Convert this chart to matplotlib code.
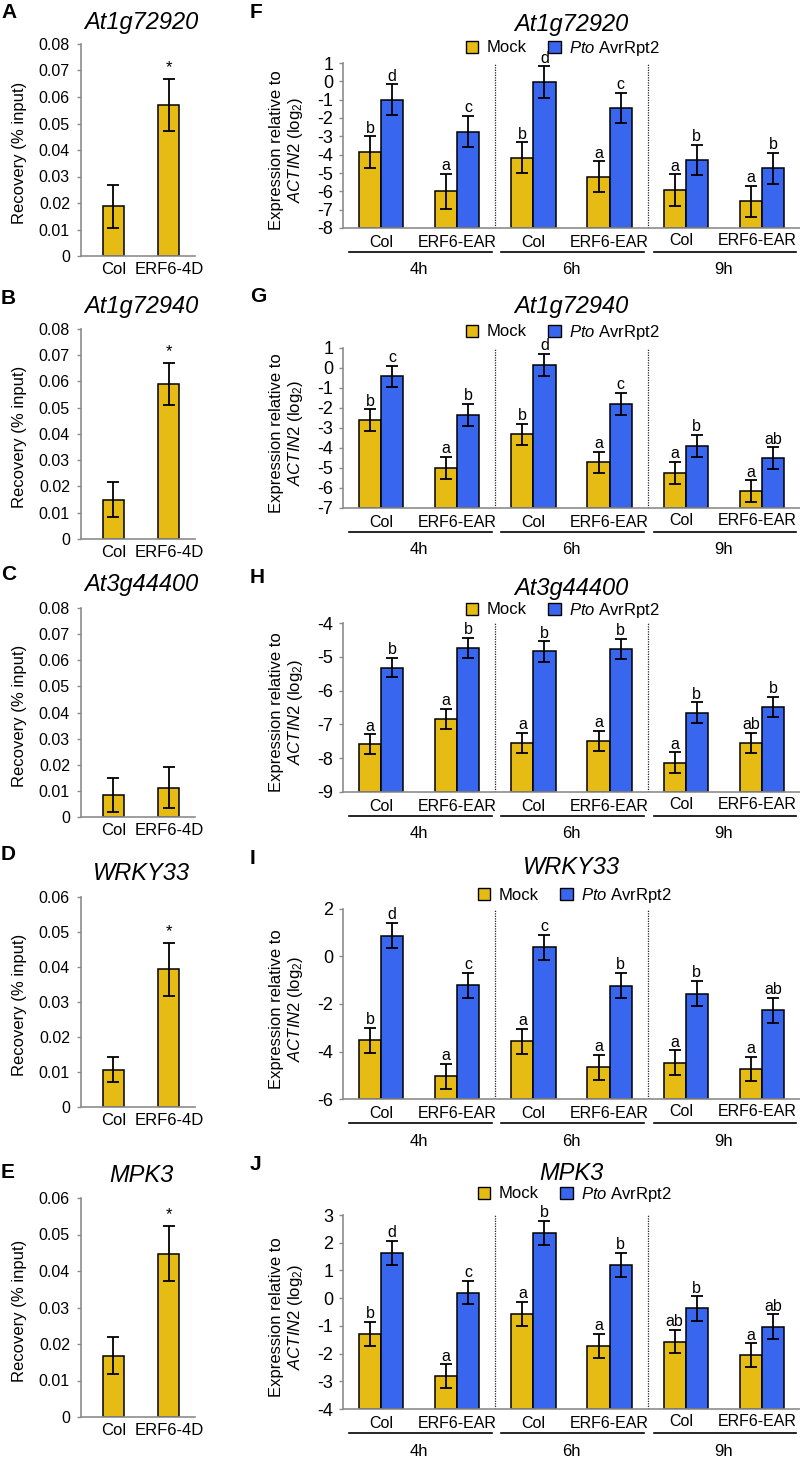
import numpy as np
import matplotlib
matplotlib.use('Agg')
import matplotlib.pyplot as plt
from matplotlib.patches import Patch
from matplotlib import transforms

plt.rcParams['font.family'] = ['Liberation Sans', 'DejaVu Sans']
plt.rcParams['mathtext.fontset'] = 'custom'
plt.rcParams['mathtext.rm'] = 'Liberation Sans'
plt.rcParams['mathtext.it'] = 'Liberation Sans:italic'
plt.rcParams['axes.unicode_minus'] = False

W, H = 800, 1457
YELLOW = '#E6BC14'
BLUE = '#3966EE'
GREY = '#8c8c8c'

# --- ChIP-qPCR (A-E) ---
chip_genes = ['At1g72920', 'At1g72940', 'At3g44400', 'WRKY33', 'MPK3']
chip_lines = ['Col', 'ERF6-4D']
chip_col = [0.0187, 0.0150, 0.0085, 0.0107, 0.0168]
chip_col_err = [0.0082, 0.0068, 0.0066, 0.0036, 0.0050]
chip_erf = [0.0570, 0.0592, 0.0112, 0.0393, 0.0447]
chip_erf_err = [0.0098, 0.0080, 0.0078, 0.0075, 0.0075]
chip_star = [True, True, False, True, True]
chip_ymax = [0.08, 0.08, 0.08, 0.06, 0.06]

# --- qRT-PCR (F-J), order: 4h Col, 4h EAR, 6h Col, 6h EAR, 9h Col, 9h EAR ---
expr_genes = ['At1g72920', 'At1g72940', 'At3g44400', 'WRKY33', 'MPK3']
expr_lines = ['Col', 'ERF6-EAR', 'Col', 'ERF6-EAR', 'Col', 'ERF6-EAR']
times = ['4h', '6h', '9h']
mock_mean = [
    [-3.87, -5.99, -4.17, -5.21, -5.94, -6.54],
    [-2.60, -4.99, -3.32, -4.72, -5.24, -6.16],
    [-7.59, -6.84, -7.54, -7.49, -8.13, -7.54],
    [-3.53, -5.05, -3.57, -4.67, -4.48, -4.74],
    [-1.29, -2.81, -0.57, -1.73, -1.57, -2.05],
]
mock_err = [
    [0.87, 0.95, 0.84, 0.84, 0.87, 0.85],
    [0.54, 0.54, 0.54, 0.53, 0.55, 0.55],
    [0.30, 0.30, 0.30, 0.30, 0.30, 0.30],
    [0.52, 0.53, 0.53, 0.53, 0.53, 0.52],
    [0.43, 0.42, 0.43, 0.44, 0.42, 0.42],
]
pto_mean = [
    [-1.01, -2.74, -0.04, -1.46, -4.29, -4.75],
    [-0.42, -2.35, 0.16, -1.79, -3.90, -4.52],
    [-5.32, -4.74, -4.84, -4.77, -6.65, -6.48],
    [0.88, -1.21, 0.39, -1.23, -1.56, -2.27],
    [1.62, 0.20, 2.34, 1.20, -0.37, -1.03],
]
pto_err = [
    [0.85, 0.84, 0.85, 0.82, 0.84, 0.84],
    [0.54, 0.55, 0.55, 0.55, 0.56, 0.55],
    [0.29, 0.30, 0.30, 0.30, 0.30, 0.30],
    [0.53, 0.53, 0.53, 0.53, 0.53, 0.53],
    [0.44, 0.42, 0.44, 0.43, 0.44, 0.44],
]
mock_letters = [
    ['b', 'a', 'b', 'a', 'a', 'a'],
    ['b', 'a', 'b', 'a', 'a', 'a'],
    ['a', 'a', 'a', 'a', 'a', 'ab'],
    ['b', 'a', 'a', 'a', 'a', 'a'],
    ['b', 'a', 'a', 'a', 'ab', 'a'],
]
pto_letters = [
    ['d', 'c', 'd', 'c', 'b', 'b'],
    ['c', 'b', 'd', 'c', 'b', 'ab'],
    ['b', 'b', 'b', 'b', 'b', 'b'],
    ['d', 'c', 'c', 'b', 'b', 'ab'],
    ['d', 'c', 'b', 'b', 'b', 'ab'],
]
expr_ylim = [(-8, 1), (-7, 1), (-9, -4), (-6, 2), (-4, 3)]
expr_ystep = [1, 1, 1, 2, 1]

# layout in pixels
left_boxes = [(44, 256), (329, 539), (608, 817), (897, 1107), (1198, 1417)]
left_title_y = [23, 307, 585, 873, 1175]
left_letter_y = [12, 298, 575, 855, 1173]
right_boxes = [(63, 228), (348, 508), (623, 792), (909, 1099), (1215, 1409)]
right_title_y = [25, 307, 588, 868, 1173]
right_letter_y = [12, 297, 577, 858, 1165]
legend_pos = [(563, 48), (563, 332), (563, 610), (575, 895), (575, 1194)]
# the 9h tick labels sit a little left/up in the original
label_shift = [(0, 0), (0, 0), (0, 0), (0, 0), (-4, 2), (-5, 2)]

fig = plt.figure(figsize=(W / 100, H / 100), dpi=100)


def px_axes(l, t, r, b):
    return fig.add_axes([l / W, 1 - b / H, (r - l) / W, (b - t) / H])


def style_axes(ax):
    for s in ['top', 'right']:
        ax.spines[s].set_visible(False)
    for s in ['left', 'bottom']:
        ax.spines[s].set_color(GREY)
        ax.spines[s].set_linewidth(1.2)
    ax.tick_params(axis='y', direction='out', length=3, width=1, color=GREY)
    ax.tick_params(axis='x', length=0)


# ---- left column ----
panel_left = ['A', 'B', 'C', 'D', 'E']
for k in range(5):
    t, b = left_boxes[k]
    ax = px_axes(81, t, 195, b)
    style_axes(ax)
    vals = [chip_col[k], chip_erf[k]]
    errs = [chip_col_err[k], chip_erf_err[k]]
    ax.bar([0, 1], vals, 0.38, color=YELLOW, edgecolor='black', lw=1.1, zorder=2)
    ax.errorbar([0, 1], vals, yerr=errs, fmt='none', ecolor='black',
                elinewidth=1.3, capsize=4, capthick=1.3, zorder=3)
    ax.set_xlim(-0.58, 1.47)
    ax.set_ylim(0, chip_ymax[k])
    yt = np.arange(0, chip_ymax[k] + 1e-9, 0.01)
    ax.set_yticks(yt)
    ax.set_yticklabels(['0'] + ['%.2f' % v for v in yt[1:]], fontsize=11.5)
    ax.tick_params(axis='y', pad=5)
    ax.set_xticks([0, 1])
    ax.set_xticklabels(chip_lines, fontsize=12)
    ax.tick_params(axis='x', pad=4)
    if chip_star[k]:
        ax.annotate('*', (1, vals[1] + errs[1]), xytext=(0, 5), textcoords='offset points',
                    ha='center', va='baseline', fontsize=12)
    fig.text(141 / W, 1 - left_title_y[k] / H, chip_genes[k], style='italic',
             fontsize=17, ha='center', va='center')
    fig.text(1 / W, 1 - left_letter_y[k] / H, panel_left[k], fontweight='bold',
             fontsize=15, ha='left', va='center')
    fig.text(20 / W, 1 - ((t + b) / 2 + 3) / H, 'Recovery (% input)', rotation=90,
             fontsize=12, ha='center', va='center')

# ---- right column ----
panel_right = ['F', 'G', 'H', 'I', 'J']
x = np.arange(6)
for k in range(5):
    t, b = right_boxes[k]
    ax = px_axes(343, t, 800, b)
    style_axes(ax)
    ylo, yhi = expr_ylim[k]
    m = np.array(mock_mean[k])
    p = np.array(pto_mean[k])
    ax.bar(x - 0.145, m - ylo, 0.29, bottom=ylo, color=YELLOW, edgecolor='black', lw=1.1, zorder=2)
    ax.bar(x + 0.145, p - ylo, 0.29, bottom=ylo, color=BLUE, edgecolor='black', lw=1.1, zorder=2)
    ax.errorbar(x - 0.145, m, yerr=mock_err[k], fmt='none', ecolor='black',
                elinewidth=1.3, capsize=4, capthick=1.3, zorder=3)
    ax.errorbar(x + 0.145, p, yerr=pto_err[k], fmt='none', ecolor='black',
                elinewidth=1.3, capsize=4, capthick=1.3, zorder=3)
    for i in range(6):
        ax.annotate(mock_letters[k][i], (x[i] - 0.145, m[i] + mock_err[k][i]), xytext=(0, 0.5),
                    textcoords='offset points', ha='center', va='bottom', fontsize=11.5)
        ax.annotate(pto_letters[k][i], (x[i] + 0.145, p[i] + pto_err[k][i]), xytext=(0, 0.5),
                    textcoords='offset points', ha='center', va='bottom', fontsize=11.5)
    for xv in [1.5, 3.5]:
        ax.axvline(xv, ls=(0, (1, 1)), color='#222222', lw=0.9, zorder=1)
    ax.set_xlim(-0.5, 5.5)
    ax.set_ylim(ylo, yhi)
    ax.set_yticks(np.arange(ylo, yhi + 0.01, expr_ystep[k]))
    ax.tick_params(axis='y', labelsize=13, pad=4)
    ax.set_xticks(x)
    ax.set_xticklabels(expr_lines, fontsize=11.5)
    ax.tick_params(axis='x', pad=5)
    for lab, (dx, dy) in zip(ax.get_xticklabels(), label_shift):
        lab.set_transform(lab.get_transform() +
                          transforms.ScaledTranslation(dx / 100, dy / 100, fig.dpi_scale_trans))

    trans = transforms.blended_transform_factory(ax.transData, ax.transAxes)
    line_tr = transforms.offset_copy(trans, fig=fig, x=0, y=-24, units='dots')
    time_tr = transforms.offset_copy(trans, fig=fig, x=0, y=-42, units='dots')
    for g in range(3):
        ax.plot([2 * g - 0.42, 2 * g + 1.45], [0, 0], transform=line_tr, color='black',
                lw=1.2, clip_on=False)
        ax.text(2 * g + 0.5, 0, times[g], transform=time_tr, ha='center', va='center',
                fontsize=12)

    fig.text(571 / W, 1 - right_title_y[k] / H, expr_genes[k], style='italic',
             fontsize=17, ha='center', va='center')
    fig.text(250 / W, 1 - right_letter_y[k] / H, panel_right[k], fontweight='bold',
             fontsize=15, ha='left', va='center')
    fig.text(287 / W, 1 - ((t + b) / 2 + 5) / H,
             'Expression relative to\n$\\it{ACTIN2}$ (log$_2$)', rotation=90,
             fontsize=12, ha='center', va='center', multialignment='center')
    lx, ly = legend_pos[k]
    handles = [Patch(facecolor=YELLOW, edgecolor='black', label='Mock'),
               Patch(facecolor=BLUE, edgecolor='black', label='$\\it{Pto}$ AvrRpt2')]
    fig.legend(handles=handles, loc='center', bbox_to_anchor=(lx / W, 1 - ly / H), ncol=2,
               frameon=False, fontsize=12, handlelength=0.75, handleheight=0.75,
               handletextpad=0.5, columnspacing=1.3, borderpad=0, borderaxespad=0)

fig.savefig('out.png', dpi=100)
